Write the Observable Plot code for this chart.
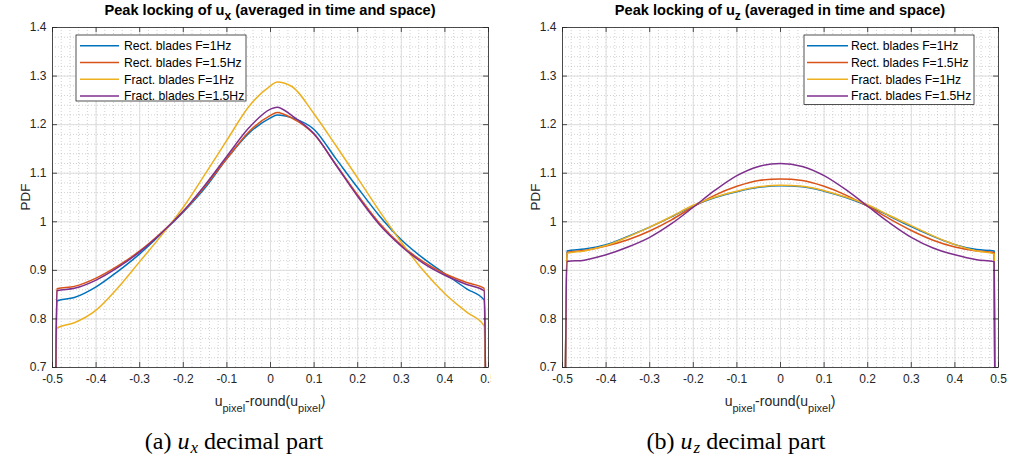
<!DOCTYPE html>
<html><head><meta charset="utf-8">
<script src="https://cdn.jsdelivr.net/npm/d3@7"></script>
<script src="https://cdn.jsdelivr.net/npm/@observablehq/plot@0.6"></script>
<style>
body{margin:0;background:#fff;}
#wrap{position:relative;width:1019px;height:462px;overflow:hidden;background:#fff;}
.panel{position:absolute;top:0;height:462px;overflow:hidden;}
.panel svg{max-width:none !important;}
</style></head><body>
<div id="wrap"><div class="panel" id="pa" style="left:0;width:491px"></div><div class="panel" id="pb" style="left:510px;width:509px"></div></div>
<script>
// ---- data ----
const seriesNames = ["Rect. blades F=1Hz","Rect. blades F=1.5Hz","Fract. blades F=1Hz","Fract. blades F=1.5Hz"];
const seriesColors = ["#0072BD","#D95319","#EDB120","#7E2F8E"];
const xTicks = [-0.5,-0.4,-0.3,-0.2,-0.1,0,0.1,0.2,0.3,0.4,0.5];
const yTicks = [0.7,0.8,0.9,1.0,1.1,1.2,1.3,1.4];

// panel (a): u_x
const uxX      = [-0.493,-0.49,-0.45,-0.4,-0.35,-0.3,-0.25,-0.2,-0.15,-0.1,-0.05,0,0.015,0.05,0.1,0.15,0.2,0.25,0.3,0.35,0.4,0.45,0.49,0.494];
const uxRect1  = [0.6,0.837,0.844,0.866,0.898,0.934,0.976,1.02,1.07,1.13,1.182,1.214,1.22,1.214,1.19,1.13,1.07,1.012,0.963,0.925,0.893,0.862,0.839,0.6];
const uxRect15 = [0.6,0.862,0.867,0.884,0.909,0.94,0.978,1.021,1.073,1.13,1.185,1.219,1.225,1.213,1.18,1.118,1.055,0.997,0.952,0.918,0.893,0.875,0.863,0.6];
const uxFrac1  = [0.6,0.781,0.792,0.818,0.864,0.918,0.972,1.03,1.098,1.168,1.237,1.28,1.288,1.278,1.222,1.157,1.09,1.022,0.958,0.9,0.852,0.814,0.786,0.6];
const uxFrac15 = [0.6,0.858,0.863,0.88,0.906,0.938,0.977,1.022,1.076,1.135,1.193,1.232,1.236,1.218,1.181,1.117,1.052,0.994,0.95,0.915,0.89,0.871,0.858,0.6];

// panel (b): u_z
const uzX      = [-0.494,-0.49,-0.45,-0.4,-0.35,-0.3,-0.25,-0.2,-0.15,-0.1,-0.05,0,0.05,0.1,0.15,0.2,0.25,0.3,0.35,0.4,0.45,0.49,0.492];
const uzRect1  = [0.6,0.940,0.944,0.953,0.970,0.989,1.010,1.033,1.050,1.062,1.071,1.074,1.072,1.063,1.050,1.033,1.012,0.990,0.970,0.953,0.943,0.940,0.6];
const uzRect15 = [0.6,0.937,0.941,0.950,0.963,0.981,1.004,1.031,1.055,1.073,1.085,1.088,1.085,1.073,1.055,1.032,1.006,0.982,0.962,0.948,0.940,0.937,0.6];
const uzFrac1  = [0.6,0.935,0.940,0.951,0.969,0.989,1.011,1.034,1.051,1.063,1.072,1.075,1.073,1.064,1.051,1.035,1.013,0.992,0.971,0.953,0.940,0.934,0.6];
const uzFrac15 = [0.6,0.918,0.921,0.932,0.948,0.968,0.996,1.030,1.065,1.095,1.114,1.120,1.114,1.095,1.066,1.032,0.998,0.968,0.946,0.932,0.922,0.918,0.6];

// ---- drawing ----
const fmt = d => String(+(+d).toFixed(1));
const minorX = d3.range(-25, 26).map(i => i / 50);
const minorY = d3.range(35, 71).map(i => i / 50);

function panel(el, xs, ys, o) {
  const data = [];
  seriesNames.forEach((s, i) => xs.forEach((x, j) => data.push({x, y: ys[i][j], s})));
  const W = o.width, H = 462, mL = 52, mR = o.mR, mT = 27, mB = 95;
  const fw = W - mL - mR, fh = H - mT - mB;
  const ax = "#262626";
  const svg = Plot.plot({
    width: W, height: H, marginLeft: mL, marginRight: mR, marginTop: mT, marginBottom: mB,
    style: {fontFamily: "'Liberation Sans', Arial, Helvetica, sans-serif", fontSize: "12px", color: ax, background: "#fff", maxWidth: "none"},
    x: {domain: [-0.5, 0.5], label: null},
    y: {domain: [0.7, 1.4], label: null},
    color: {domain: seriesNames, range: seriesColors},
    marks: [
      Plot.gridX(minorX, {stroke: "#bdbdbd", strokeOpacity: 1, strokeDasharray: "1,2", strokeWidth: 0.7}),
      Plot.gridY(minorY, {stroke: "#bdbdbd", strokeOpacity: 1, strokeDasharray: "1,2", strokeWidth: 0.7}),
      Plot.gridX(xTicks, {stroke: "#dedede", strokeOpacity: 1, strokeWidth: 1}),
      Plot.gridY(yTicks, {stroke: "#dedede", strokeOpacity: 1, strokeWidth: 1}),
      Plot.line(data, {x: "x", y: "y", z: "s", stroke: "s", curve: "monotone-x", strokeWidth: 1.5, clip: true}),
      Plot.ruleX(xTicks, {stroke: ax, strokeWidth: 0.8, insetTop: fh - 5}),
      Plot.ruleX(xTicks, {stroke: ax, strokeWidth: 0.8, insetBottom: fh - 5}),
      Plot.ruleY(yTicks, {stroke: ax, strokeWidth: 0.8, insetRight: fw - 5}),
      Plot.ruleY(yTicks, {stroke: ax, strokeWidth: 0.8, insetLeft: fw - 5}),
      Plot.frame({stroke: ax, strokeWidth: 0.8}),
      Plot.axisX(xTicks, {tickSize: 0, tickPadding: 7, tickFormat: fmt}),
      Plot.axisY(yTicks, {tickSize: 0, tickPadding: 6, tickFormat: fmt})
    ]
  });
  svg.style.maxWidth = "none";
  const g = d3.select(svg);
  const cx = mL + fw / 2;
  // title
  const t = g.append("text").attr("x", cx).attr("y", 15).attr("text-anchor", "middle")
    .attr("font-weight", "bold").attr("font-size", 14.6).attr("fill", "#000");
  t.append("tspan").text("Peak locking of u");
  t.append("tspan").attr("dy", 5).attr("font-size", 12).text(o.sub);
  t.append("tspan").attr("dy", -5).text(" (averaged in time and space)");
  // x label
  const xl = g.append("text").attr("x", cx).attr("y", 406).attr("text-anchor", "middle")
    .attr("font-size", 14).attr("fill", ax);
  xl.append("tspan").text("u");
  xl.append("tspan").attr("dy", 6).attr("font-size", 11).text("pixel");
  xl.append("tspan").attr("dy", -6).text("-round(u");
  xl.append("tspan").attr("dy", 6).attr("font-size", 11).text("pixel");
  xl.append("tspan").attr("dy", -6).text(")");
  // y label
  g.append("text").attr("transform", "translate(30," + (mT + fh / 2) + ") rotate(-90)")
    .attr("text-anchor", "middle").attr("font-size", 13.5).attr("fill", ax).text("PDF");
  // legend
  const L = o.legend;
  g.append("rect").attr("x", L.x).attr("y", 35).attr("width", L.w).attr("height", L.h)
    .attr("fill", "#fff").attr("stroke", ax).attr("stroke-width", 0.8);
  seriesNames.forEach((s, i) => {
    const ry = 45.7 + 16.8 * i;
    g.append("line").attr("x1", L.lx1).attr("x2", L.lx2).attr("y1", ry).attr("y2", ry)
      .attr("stroke", seriesColors[i]).attr("stroke-width", 1.5);
    g.append("text").attr("x", L.tx).attr("y", ry + 4.3).attr("text-anchor", "start")
      .attr("font-size", 12.2).attr("fill", "#000").text(s);
  });
  // caption
  const c = g.append("text").attr("x", o.capX).attr("y", 449).attr("text-anchor", "middle")
    .attr("font-family", "'Liberation Serif', 'Times New Roman', serif").attr("font-size", 24).attr("fill", "#000");
  c.append("tspan").text(o.capLetter + " ");
  c.append("tspan").attr("font-style", "italic").text("u");
  c.append("tspan").attr("font-style", "italic").attr("font-size", 17).attr("dy", 4).attr("dx", 1).text(o.sub);
  c.append("tspan").attr("dy", -4).text(" decimal part");
  el.appendChild(svg);
}

panel(document.getElementById("pa"), uxX, [uxRect1, uxRect15, uxFrac1, uxFrac15],
  {width: 510, mR: 22, sub: "x", capLetter: "(a)", capX: 234,
   legend: {x: 76, w: 170, h: 66, lx1: 80, lx2: 119, tx: 124}});
panel(document.getElementById("pb"), uzX, [uzRect1, uzRect15, uzFrac1, uzFrac15],
  {width: 509, mR: 21, sub: "z", capX: 226, capLetter: "(b)",
   legend: {x: 294, w: 170, h: 69.5, lx1: 297, lx2: 338, tx: 341}});
</script>
</body></html>
